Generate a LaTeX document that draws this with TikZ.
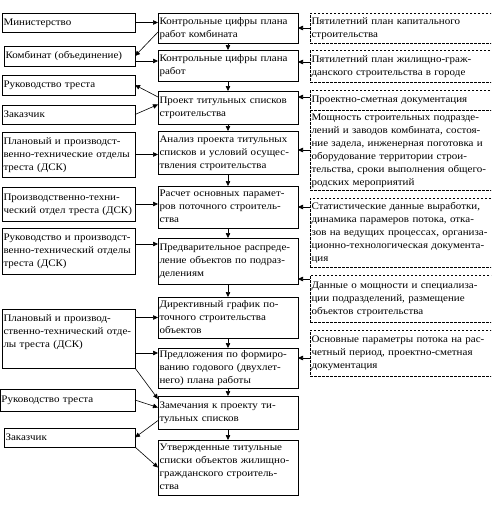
\documentclass[tikz,border=0pt]{standalone}
\usepackage{fontspec}
\setmainfont[FakeStretch=1.1]{Liberation Serif}
\usetikzlibrary{arrows.meta}
\newcommand{\blines}[1]{\noindent\begin{tabular}{@{}l@{}}#1\end{tabular}}
\begin{document}
\begin{tikzpicture}[x=1pt,y=-1pt,
  base/.style={anchor=north west, inner xsep=1.5pt, inner ysep=0pt, outer sep=0pt, align=left,
    font=\fontsize{10}{13}\selectfont},
  box/.style={base, draw, line width=0.8pt},
  dashline/.style={line width=0.6pt, dash pattern=on 2.5pt off 1.5pt},
  dbox/.style={base, draw, dashline},
  lbox/.style={box, minimum width=133, text width=130pt},
  cbox/.style={box, minimum width=140, text width=137pt},
  rbox/.style={dbox, minimum width=190, text width=187pt},
  arr/.style={-{Triangle[length=5pt,width=4.5pt]}, line width=0.6pt}]
\useasboundingbox (0,0) rectangle (491,506);
\fill[white] (0,0) rectangle (491,506);
\clip (0,0) rectangle (491,506);

% left column
\node[lbox, minimum height=19] (L1) at (2,13) {\blines{Министерство}};
\node[lbox, minimum width=131, text width=128pt, minimum height=20] (L2) at (4,46) {\blines{Комбинат (объединение)}};
\node[lbox, minimum height=20] (L3) at (2,75) {\blines{Руководство треста}};
\node[lbox, minimum height=19] (L4) at (2,105) {\blines{Заказчик}};
\node[lbox, minimum height=45] (L5) at (2,132) {\blines{Плановый и производст-\\венно-технические отделы\\треста (ДСК)}};
\node[lbox, minimum height=34] (L6) at (2,187) {\blines{Производственно-техни-\\ческий отдел треста (ДСК)}};
\node[lbox, minimum height=46] (L7) at (2,228) {\blines{Руководство и производст-\\венно-технический отделы\\треста (ДСК)}};
\node[lbox, minimum height=59] (L8) at (2,309) {\blines{Плановый и производ-\\ственно-технический отде-\\лы треста (ДСК)\\ \\}};
\node[lbox, minimum width=135, text width=132pt, minimum height=22] (L9) at (0,389) {\blines{Руководство треста}};
\node[lbox, minimum width=131, text width=128pt, minimum height=19] (L10) at (4,428) {\blines{Заказчик}};

% central column
\node[cbox, minimum height=30] (b1) at (158,13) {\blines{Контрольные цифры плана\\работ комбината}};
\node[cbox, minimum height=31] (b2) at (158,50) {\blines{Контрольные цифры плана\\работ}};
\node[cbox, minimum height=33] (b3) at (158,91) {\blines{Проект титульных списков\\строительства}};
\node[cbox, minimum height=43] (b4) at (158,131) {\blines{Анализ проекта титульных\\списков и условий осущес-\\твления строительства}};
\node[cbox, minimum height=42] (b5) at (158,186) {\blines{Расчет основных парамет-\\ров поточного строитель-\\ства}};
\node[cbox, minimum height=46] (b6) at (158,238) {\blines{Предварительное распреде-\\ление объектов по подраз-\\делениям}};
\node[cbox, minimum height=41] (b7) at (158,297) {\blines{Директивный график по-\\точного строительства\\объектов}};
\node[cbox, minimum height=40] (b8) at (158,348) {\blines{Предложения по формиро-\\ванию годового (двухлет-\\него) плана работы}};
\node[cbox, minimum height=33] (b9) at (158,396) {\blines{Замечания к проекту ти-\\тульных списков}};
\node[cbox, minimum height=55] (b10) at (158,440) {\blines{Утвержденные титульные\\списки объектов жилищно-\\гражданского строитель-\\ства}};

% right column
\node[rbox, minimum height=30] (R1) at (310,13) {\blines{Пятилетний план капитального\\строительства}};
\node[rbox, minimum height=32] (R2) at (310,50) {\blines{Пятилетний план жилищно-граж-\\данского строительства в городе}};
\node[rbox, minimum height=20] (R3) at (310,90) {\blines{Проектно-сметная документация}};
\node[base, minimum width=190, text width=187pt, minimum height=80] (R4) at (310,110) {\blines{Мощность строительных подразде-\\лений и заводов комбината, состоя-\\ние задела, инженерная поготовка и\\оборудование территории строи-\\тельства, сроки выполнения общего-\\родских мероприятий}};
\draw[dashline] (R4.north west) -- (R4.south west) -- (R4.south east);
\node[rbox, minimum height=69] (R5) at (310,198) {\blines{Статистические данные выработки,\\динамика парамеров потока, отка-\\зов на ведущих процессах, организа-\\ционно-технологическая документа-\\ция}};
\node[rbox, minimum height=47] (R6) at (310,275) {\blines{Данные о мощности и специализа-\\ции подразделений, размещение\\объектов строительства}};
\node[rbox, minimum height=46] (R7) at (310,330) {\blines{Основные параметры потока на рас-\\четный период, проектно-сметная\\документация}};

% central flow
\foreach \a/\b in {b1/b2,b2/b3,b3/b4,b4/b5,b5/b6,b6/b7,b7/b8,b8/b9,b9/b10}
  \draw[arr] (\a.south) -- (\b.north);

% helper coordinates
\coordinate (cL2) at ([yshift=-5pt]L2.east);
\coordinate (cL7) at ([yshift=7pt]L7.east);
\coordinate (cL8) at ([yshift=-14.5pt]L8.east);
\coordinate (cR2) at ([yshift=4pt]R2.west);
\coordinate (cR3) at ([yshift=3pt]R3.west);
\coordinate (cR7) at ([yshift=-5pt]R7.west);
\coordinate (cb6) at ([yshift=-18pt]b6.east);
\coordinate (cb1) at ([yshift=11pt]b1.south west);
\coordinate (cb3a) at ([yshift=-6pt]b3.north west);
\coordinate (cb3b) at ([yshift=3pt]b3.west);
\coordinate (cb9a) at ([yshift=-3pt]b9.north west);
\coordinate (cb9b) at ([yshift=5pt]b9.west);
\coordinate (cb9c) at ([yshift=-8pt]b9.west);

% left connectors
\draw[arr] (L1.east) -- (L1.east -| b1.west);
\draw[arr] (cb1) -- (L2.east);
\draw[arr] (cL2) -- (cL2 -| b2.west);
\draw[arr] (cb3a) -- (L3.east);
\draw[arr] (L4.east) -- (cb3b);
\draw[arr] (L5.east) -- (L5.east -| b4.west);
\draw[arr] (L6.east) -- (L6.east -| b5.west);
\draw[arr] (cL7) -- (cL7 -| b6.west);
\draw[arr] (L8.east |- b7.west) -- (b7.west);
\draw[arr] (cL8) -- (cL8 -| b8.west);
\draw[arr] (L8.south east) -- (cb9a);
\draw[arr] (L9.east) -- (cb9b);
\draw[arr] (cb9c) -- (L10.east);
\draw[arr] (L10.south east) -- (b10.west);

% right connectors
\draw[arr] (R1.west) -- (R1.west -| b1.east);
\draw[arr] (cR2) -- (cR2 -| b2.east);
\draw[arr] (cR3) -- (cR3 -| b3.east);
\draw[arr] (R4.west) -- (R4.west -| b4.east);
\draw[arr] (R5.west |- b5.east) -- (b5.east);
\draw[arr] (R6.west |- cb6) -- (cb6);
\draw[arr] (cR7) -- (cR7 -| b8.east);
\end{tikzpicture}
\end{document}
